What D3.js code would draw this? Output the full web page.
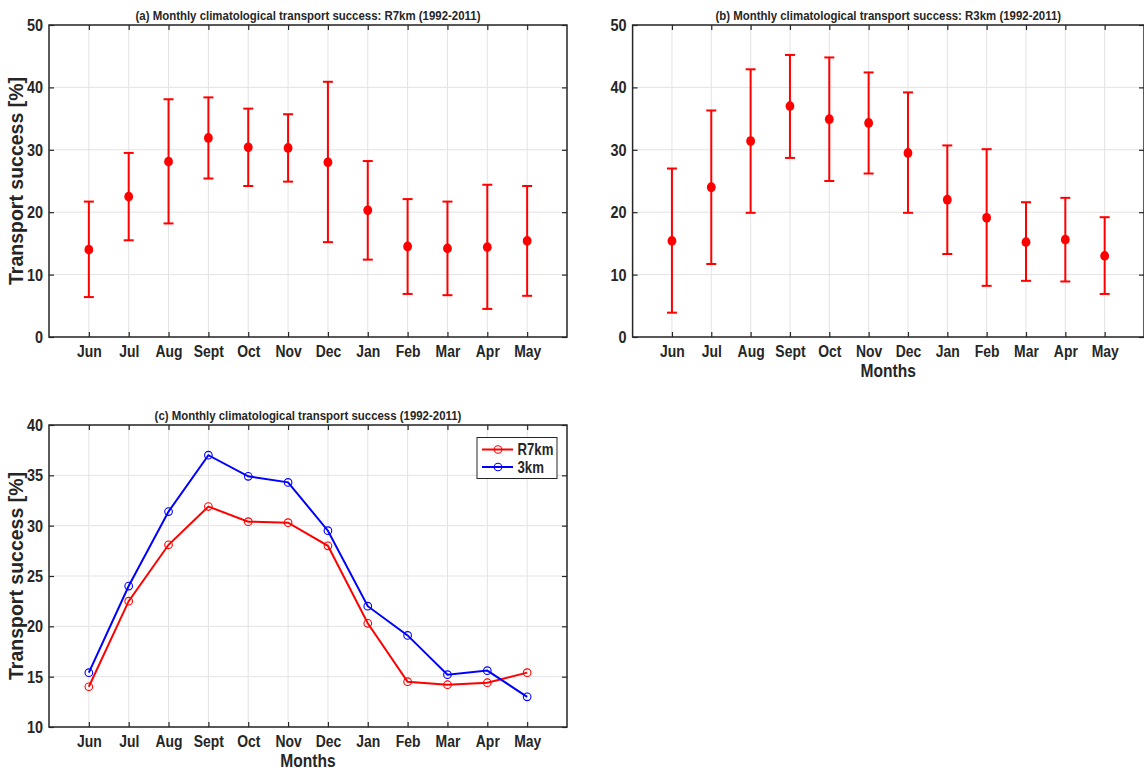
<!DOCTYPE html>
<html>
<head>
<meta charset="utf-8">
<script src="https://cdn.jsdelivr.net/npm/d3@7"></script>
<style>
  body{margin:0;background:#fff}
  svg text{font-family:"Liberation Sans",Arial,sans-serif;font-weight:bold;fill:#262626}
  .narrow{transform-box:fill-box}
</style>
</head>
<body>
<div class="chart"></div>
<script>
// values
const months=['Jun','Jul','Aug','Sept','Oct','Nov','Dec','Jan','Feb','Mar','Apr','May']
const r7Mean=[14.0,22.5,28.1,31.9,30.4,30.3,28.0,20.3,14.5,14.2,14.4,15.4]
const r7Low=[6.4,15.5,18.2,25.4,24.2,24.9,15.2,12.4,6.9,6.7,4.5,6.6]
const r7High=[21.7,29.5,38.1,38.4,36.6,35.7,40.9,28.2,22.1,21.7,24.4,24.2]
const r3Mean=[15.4,24.0,31.4,37.0,34.9,34.3,29.5,22.0,19.1,15.2,15.6,13.0]
const r3Low=[3.9,11.7,19.9,28.7,25.0,26.2,19.9,13.3,8.2,9.0,8.9,6.9]
const r3High=[27.0,36.3,42.9,45.2,44.8,42.4,39.2,30.7,30.1,21.6,22.3,19.2]
const yTicksAB=[0,10,20,30,40,50]
const yTicksC=[10,15,20,25,30,35,40]
const legendNames=['R7km','3km']

const W=1144,H=771
const svg=d3.select('.chart').append('svg')
	.attr('width',W)
	.attr('height',H)

// the original font is a condensed helvetica, squeeze liberation sans a bit
function narrow(sel,k,origin){
	sel.classed('narrow',true)
		.style('transform-origin',origin)
		.style('transform',`scaleX(${k})`)
	return sel
}

function frame(p,yDomain,yTicks,title,showY,showX){
	const x=d3.scaleLinear().domain([0,13]).range([p.x0,p.x1])
	const y=d3.scaleLinear().domain(yDomain).range([p.y1,p.y0])
	const g=svg.append('g')
	const idx=d3.range(1,13)

	// grid
	g.selectAll('.vgrid').data(idx).enter().append('line')
		.attr('x1',d=>x(d)).attr('x2',d=>x(d))
		.attr('y1',p.y0).attr('y2',p.y1)
		.attr('stroke','#e3e3e3').attr('stroke-width',1)
	g.selectAll('.hgrid').data(yTicks).enter().append('line')
		.attr('x1',p.x0).attr('x2',p.x1)
		.attr('y1',d=>y(d)).attr('y2',d=>y(d))
		.attr('stroke','#e3e3e3').attr('stroke-width',1)

	const xAxis=d3.axisBottom(x).tickValues(idx).tickFormat(d=>months[d-1])
		.tickSizeInner(-5).tickSizeOuter(0).tickPadding(8)
	const xTop=d3.axisTop(x).tickValues(idx).tickFormat('')
		.tickSizeInner(-5).tickSizeOuter(0)
	const yAxis=d3.axisLeft(y).tickValues(yTicks)
		.tickSizeInner(-5).tickSizeOuter(0).tickPadding(6)
	const yRight=d3.axisRight(y).tickValues(yTicks).tickFormat('')
		.tickSizeInner(-5).tickSizeOuter(0)

	const gx=g.append('g').attr('transform',`translate(0,${p.y1})`).call(xAxis)
	const gxt=g.append('g').attr('transform',`translate(0,${p.y0})`).call(xTop)
	const gy=g.append('g').attr('transform',`translate(${p.x0},0)`).call(yAxis)
	const gyr=g.append('g').attr('transform',`translate(${p.x1},0)`).call(yRight)
	;[gx,gxt,gy,gyr].forEach(a=>{
		a.select('.domain').remove()
		a.selectAll('line').attr('stroke','#262626').attr('stroke-width',1.2)
		a.selectAll('text').style('font-size','17px').attr('fill','#262626')
	})
	narrow(gx.selectAll('text'),0.82,'center')
	narrow(gy.selectAll('text'),0.85,'right center')

	g.append('rect')
		.attr('x',p.x0).attr('y',p.y0)
		.attr('width',p.x1-p.x0).attr('height',p.y1-p.y0)
		.attr('fill','none').attr('stroke','#262626').attr('stroke-width',1.5)

	narrow(g.append('text')
		.attr('x',(p.x0+p.x1)/2).attr('y',p.y0-4.5)
		.attr('text-anchor','middle')
		.style('font-size','13px').attr('fill','#000')
		.text(title),0.88,'center')

	if(showY){
		g.append('text')
			.attr('transform',`translate(23,${(p.y0+p.y1)/2}) rotate(-90)`)
			.attr('text-anchor','middle')
			.style('font-size','19.5px')
			.text('Transport success [%]')
	}
	if(showX){
		narrow(g.append('text')
			.attr('x',(p.x0+p.x1)/2).attr('y',p.y1+40)
			.attr('text-anchor','middle')
			.style('font-size','19px')
			.text('Months'),0.82,'center')
	}
	return {g,x,y}
}

function errorPanel(p,title,mean,low,high,showY,showX){
	const {g,x,y}=frame(p,[0,50],yTicksAB,title,showY,showX)
	const data=months.map((m,i)=>({i:i+1,m:mean[i],lo:low[i],hi:high[i]}))
	const eb=g.selectAll('.eb').data(data).enter().append('g')
	eb.append('line')
		.attr('x1',d=>x(d.i)).attr('x2',d=>x(d.i))
		.attr('y1',d=>y(d.lo)).attr('y2',d=>y(d.hi))
	eb.append('line')
		.attr('x1',d=>x(d.i)-5).attr('x2',d=>x(d.i)+5)
		.attr('y1',d=>y(d.lo)).attr('y2',d=>y(d.lo))
	eb.append('line')
		.attr('x1',d=>x(d.i)-5).attr('x2',d=>x(d.i)+5)
		.attr('y1',d=>y(d.hi)).attr('y2',d=>y(d.hi))
	eb.selectAll('line').attr('stroke','#ff0000').attr('stroke-width',2)
	eb.append('ellipse')
		.attr('cx',d=>x(d.i)).attr('cy',d=>y(d.m))
		.attr('rx',4.4).attr('ry',4.9)
		.attr('fill','#ff0000')
}

errorPanel({x0:49,x1:567,y0:25,y1:337},'(a) Monthly climatological transport success: R7km (1992-2011)',r7Mean,r7Low,r7High,true,false)
errorPanel({x0:632.6,x1:1144,y0:25,y1:337},'(b) Monthly climatological transport success: R3km (1992-2011)',r3Mean,r3Low,r3High,false,true)

// panel c
const pc={x0:49,x1:567,y0:425,y1:727}
const c=frame(pc,[10,40],yTicksC,'(c) Monthly climatological transport success (1992-2011)',true,true)
const series=[{name:legendNames[0],vals:r7Mean,color:'#ff0000'},{name:legendNames[1],vals:r3Mean,color:'#0000ff'}]
const line=d3.line().x((d,i)=>c.x(i+1)).y(d=>c.y(d))
series.forEach(s=>{
	c.g.append('path')
		.attr('d',line(s.vals))
		.attr('fill','none').attr('stroke',s.color).attr('stroke-width',2)
	c.g.selectAll(null).data(s.vals).enter().append('circle')
		.attr('cx',(d,i)=>c.x(i+1)).attr('cy',d=>c.y(d))
		.attr('r',3.8).attr('fill','none')
		.attr('stroke',s.color).attr('stroke-width',1.1)
})

const leg=c.g.append('g').attr('transform','translate(477,437.5)')
leg.append('rect').attr('width',80).attr('height',41)
	.attr('fill','#fff').attr('stroke','#262626').attr('stroke-width',1)
series.forEach((s,i)=>{
	const yy=12+i*17.5
	leg.append('line').attr('x1',5).attr('x2',36).attr('y1',yy).attr('y2',yy)
		.attr('stroke',s.color).attr('stroke-width',2)
	leg.append('circle').attr('cx',21).attr('cy',yy).attr('r',3.8)
		.attr('fill','none').attr('stroke',s.color).attr('stroke-width',1.1)
	narrow(leg.append('text').attr('x',40.5).attr('y',yy+6)
		.style('font-size','16.5px').attr('fill','#000')
		.text(s.name),0.8,'left center')
})
</script>
</body>
</html>
